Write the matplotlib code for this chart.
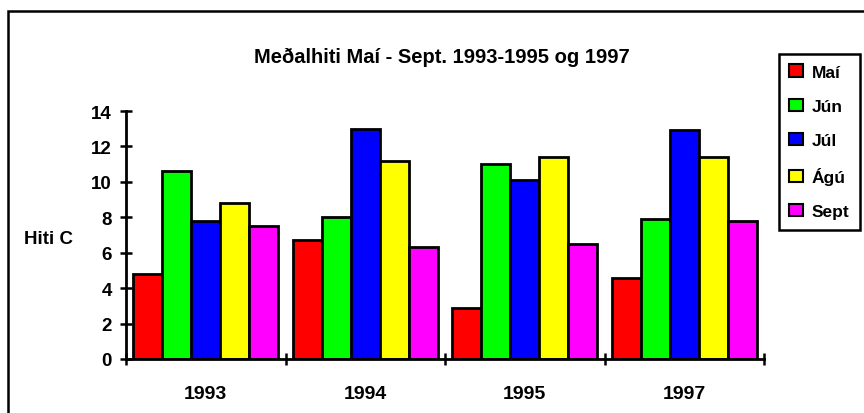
import numpy as np
import matplotlib.pyplot as plt
from matplotlib.patches import Rectangle

plt.rcParams['font.family'] = ['Liberation Sans', 'DejaVu Sans']
plt.rcParams['font.weight'] = 'bold'

ar = ['1993', '1994', '1995', '1997']
manudir = ['Maí', 'Jún', 'Júl', 'Ágú', 'Sept']
litir = ['#ff0000', '#00ff00', '#0000ff', '#ffff00', '#ff00ff']

mai = [4.8, 6.7, 2.9, 4.6]
jun = [10.6, 8.0, 11.0, 7.9]
jul = [7.8, 13.0, 10.1, 12.9]
agu = [8.8, 11.2, 11.4, 11.4]
sept = [7.5, 6.3, 6.5, 7.8]
gildi = [mai, jun, jul, agu, sept]

fig = plt.figure(figsize=(8.64, 4.14), dpi=100)
ax = fig.add_axes([126/864, 54/414, 638/864, 248/414])

# rammi utan um allt
fig.patches.append(Rectangle((8/864, -0.1), 1.2, 1.1 - 12/414, transform=fig.transFigure,
                             fill=False, edgecolor='black', linewidth=1.8))

x = np.arange(len(ar))
w = 0.182
for i in range(5):
    ax.bar(x + (i - 2)*w, gildi[i], w, color=litir[i], edgecolor='black',
           linewidth=2, label=manudir[i])

ax.set_xlim(-0.5, 3.5)
ax.set_ylim(0, 14)
ax.set_yticks(np.arange(0, 15, 2))
ax.set_xticks(x)
ax.set_xticklabels(ar, fontsize=14, fontweight='bold')
ax.set_xticks(np.arange(-0.5, 4, 1), minor=True)
ax.tick_params(axis='x', which='major', length=0, pad=19)
ax.tick_params(axis='x', which='minor', direction='inout', length=8, width=1.8)
ax.tick_params(axis='y', direction='inout', length=8, width=1.8, labelsize=13.5, pad=6)
for t in ax.get_yticklabels():
    t.set_fontweight('bold')

for s in ['top', 'right']:
    ax.spines[s].set_visible(False)
ax.spines['left'].set_linewidth(2)
ax.spines['bottom'].set_linewidth(2)

ax.set_ylabel('Hiti C', rotation=0, fontsize=13.5, fontweight='bold',
              ha='center', va='center')
ax.yaxis.set_label_coords(-0.121, 0.484)

fig.text(442/864, 1 - 57/414, 'Meðalhiti Maí - Sept. 1993-1995 og 1997',
         ha='center', va='center', fontsize=14.5, fontweight='bold')

leg = fig.legend(loc='upper left', bbox_to_anchor=(779/864, 1 - 55/414),
                 fancybox=False, edgecolor='black', framealpha=1,
                 prop={'size': 12.5, 'weight': 'bold'}, handlelength=0.8,
                 handleheight=0.7, handletextpad=0.5, labelspacing=1.1,
                 borderpad=0.6, borderaxespad=0)
leg.get_frame().set_linewidth(1.8)
for p in leg.get_patches():
    p.set_linewidth(1.5)

fig.savefig('out.png', dpi=100)
